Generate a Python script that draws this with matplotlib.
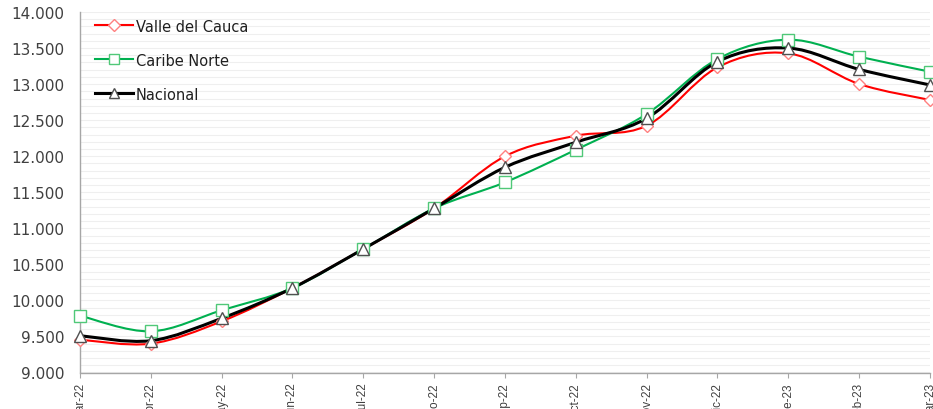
import numpy as np
import matplotlib
matplotlib.use("Agg")
import matplotlib.pyplot as plt
from matplotlib.path import Path
from matplotlib.patches import PathPatch
from matplotlib.lines import Line2D
from matplotlib.ticker import FuncFormatter, MultipleLocator

months = ["mar-22", "abr-22", "may-22", "jun-22", "jul-22", "ago-22", "sep-22",
          "oct-22", "nov-22", "dic-22", "ene-23", "feb-23", "mar-23"]
valle = [9455, 9400, 9710, 10172, 10713, 11277, 11999, 12284, 12423, 13233, 13427, 13001, 12780]
caribe = [9788, 9571, 9863, 10172, 10713, 11277, 11638, 12090, 12585, 13348, 13616, 13380, 13172]
nacional = [9510, 9441, 9752, 10172, 10713, 11277, 11846, 12193, 12526, 13311, 13500, 13204, 12988]

W, H = 933, 410
fig = plt.figure(figsize=(W / 100, H / 100), dpi=100)
ax = fig.add_axes([80 / W, (H - 373.5) / H, (930 - 80) / W, (373.5 - 13) / H])


def smooth_path(x, y):
    x = np.asarray(x, float)
    y = np.asarray(y, float)
    n = len(x)
    verts = [(x[0], y[0])]
    codes = [Path.MOVETO]
    for i in range(n - 1):
        p0 = (x[max(i - 1, 0)], y[max(i - 1, 0)])
        p1 = (x[i], y[i])
        p2 = (x[i + 1], y[i + 1])
        p3 = (x[min(i + 2, n - 1)], y[min(i + 2, n - 1)])
        c1 = (p1[0] + (p2[0] - p0[0]) / 6, p1[1] + (p2[1] - p0[1]) / 6)
        c2 = (p2[0] - (p3[0] - p1[0]) / 6, p2[1] - (p3[1] - p1[1]) / 6)
        verts += [c1, c2, p2]
        codes += [Path.CURVE4] * 3
    return Path(verts, codes)


series = [
    ("Valle del Cauca", valle, "#ff0000", "D", "#ff8080", 1.5, 6.5),
    ("Caribe Norte", caribe, "#00b050", "s", "#50c878", 1.5, 8.5),
    ("Nacional", nacional, "#000000", "^", "#505050", 2.2, 8.5),
]

x = np.arange(len(months))
handles = []
for name, vals, col, mk, mec, lw, ms in series:
    patch = PathPatch(smooth_path(x, vals), facecolor="none", edgecolor=col,
                      lw=lw, capstyle="round", joinstyle="round", zorder=3)
    ax.add_patch(patch)
    ax.plot(x, vals, linestyle="none", marker=mk, markersize=ms,
            markerfacecolor="white", markeredgecolor=mec, markeredgewidth=1.0,
            zorder=4, clip_on=False)
    handles.append(Line2D([], [], color=col, lw=lw, marker=mk, markersize=ms * 0.9,
                          markerfacecolor="white", markeredgecolor=mec,
                          markeredgewidth=1.0, label=name))

ax.set_xlim(0, len(months) - 1)
ax.set_ylim(9000, 14000)
ax.yaxis.set_major_locator(MultipleLocator(500))
ax.yaxis.set_minor_locator(MultipleLocator(100))
ax.yaxis.set_major_formatter(FuncFormatter(lambda v, p: f"{int(v):,}".replace(",", ".")))
ax.grid(axis="y", which="both", color="#efefef", lw=0.8)
ax.set_axisbelow(True)

ax.set_xticks(x)
ax.set_xticklabels(months, rotation=90, fontsize=8.5, color="#404040",
                   family="Liberation Sans")
ax.tick_params(axis="x", length=3.5, color="#a6a6a6", pad=3.5)
ax.tick_params(axis="y", which="both", length=0, labelsize=11, labelcolor="#404040", pad=11)

for s in ["top", "right"]:
    ax.spines[s].set_visible(False)
for s in ["left", "bottom"]:
    ax.spines[s].set_color("#a6a6a6")
    ax.spines[s].set_linewidth(1.0)

leg = ax.legend(handles=handles, loc="upper left", bbox_to_anchor=(0.007, 1.006),
                frameon=False, fontsize=10.5, labelspacing=1.3, handlelength=2.6,
                handletextpad=0.2, borderaxespad=0.2)
for t in leg.get_texts():
    t.set_color("#202020")

fig.savefig("out.png", dpi=100)
